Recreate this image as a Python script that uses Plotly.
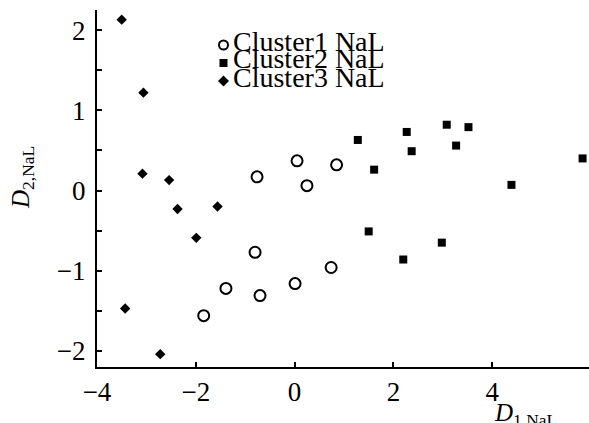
import plotly.graph_objects as go

# ---- data ----
c1_x = [-0.76, 0.05, 0.25, 0.85, -0.80, -1.39, -0.70, -1.84, 0.01, 0.74]
c1_y = [0.17, 0.37, 0.06, 0.32, -0.77, -1.22, -1.31, -1.56, -1.16, -0.96]

c2_x = [1.28, 1.61, 2.27, 2.37, 3.08, 3.52, 3.27, 4.39, 5.83, 1.50, 2.20, 2.98]
c2_y = [0.63, 0.26, 0.73, 0.49, 0.82, 0.79, 0.56, 0.07, 0.40, -0.51, -0.86, -0.65]

c3_x = [-3.50, -3.06, -3.08, -2.54, -2.37, -1.56, -1.99, -3.43, -2.72]
c3_y = [2.13, 1.22, 0.21, 0.13, -0.23, -0.20, -0.59, -1.47, -2.04]

series_names = ["Cluster1 NaL", "Cluster2 NaL", "Cluster3 NaL"]
x_ticks = [-4, -2, 0, 2, 4]
y_ticks = [-2, -1, 0, 1, 2]

FONT = "Liberation Serif"
W, H = 589, 423
# plot area in page pixels
L, R, T, B = 97, 589, 10, 367


def px(x_page):
    return (x_page - L) / (R - L)


def py(y_page):
    return (B - y_page) / (B - T)


fig = go.Figure()
fig.add_trace(go.Scatter(x=c1_x, y=c1_y, mode="markers", name=series_names[0], cliponaxis=False,
                         marker=dict(symbol="circle-open", size=11, color="black",
                                     line=dict(width=2, color="black"))))
fig.add_trace(go.Scatter(x=c2_x, y=c2_y, mode="markers", name=series_names[1], cliponaxis=False,
                         marker=dict(symbol="square", size=8, color="black")))
fig.add_trace(go.Scatter(x=c3_x, y=c3_y, mode="markers", name=series_names[2], cliponaxis=False,
                         marker=dict(symbol="diamond", size=8, color="black")))

annotations = []
shapes = []
# legend (drawn manually to get the tight line spacing)
leg_y = [41.0, 59.0, 77.5]
sym_y = [45, 63, 81]
for name, ty in zip(series_names, leg_y):
    annotations.append(dict(text=name, xref="paper", yref="paper", x=px(231), y=py(ty),
                            xanchor="left", yanchor="middle", showarrow=False,
                            font=dict(family=FONT, size=28, color="black")))
sx = px(223.5)
shapes.append(dict(type="circle", xref="paper", yref="paper", xsizemode="pixel", ysizemode="pixel",
                   xanchor=sx, yanchor=py(sym_y[0]), x0=-4.5, x1=4.5, y0=-4.5, y1=4.5,
                   line=dict(color="black", width=2)))
shapes.append(dict(type="rect", xref="paper", yref="paper", xsizemode="pixel", ysizemode="pixel",
                   xanchor=sx, yanchor=py(sym_y[1]), x0=-4, x1=4, y0=-4, y1=4,
                   fillcolor="black", line=dict(width=0)))
shapes.append(dict(type="path", xref="paper", yref="paper", xsizemode="pixel", ysizemode="pixel",
                   xanchor=sx, yanchor=py(sym_y[2]), path="M -5.5 0 L 0 5.5 L 5.5 0 L 0 -5.5 Z",
                   fillcolor="black", line=dict(width=0)))

# axis titles
annotations.append(dict(text="<i>D</i><sub>2,NaL</sub>", xref="paper", yref="paper",
                        x=px(22), y=py(178), textangle=-90, showarrow=False,
                        xanchor="center", yanchor="middle",
                        font=dict(family=FONT, size=25, color="black")))
annotations.append(dict(text="<i>D</i><sub>1,NaL</sub>", xref="paper", yref="paper",
                        x=px(525), y=py(397), showarrow=False,
                        xanchor="center", yanchor="top",
                        font=dict(family=FONT, size=25, color="black")))

axis_common = dict(ticks="inside", ticklen=5, tickwidth=1.5, tickcolor="black",
                   showline=True, linecolor="black", linewidth=2, showgrid=False,
                   zeroline=False, automargin=False,
                   tickfont=dict(family=FONT, size=27, color="black"))

fig.update_layout(
    width=W, height=H,
    margin=dict(l=L, r=W - R, t=T, b=H - B, pad=0),
    paper_bgcolor="white", plot_bgcolor="white",
    showlegend=False,
    font=dict(family=FONT, size=24, color="black"),
    annotations=annotations, shapes=shapes,
    xaxis=dict(range=[-4, 5.96], tickvals=x_ticks, **axis_common),
    yaxis=dict(range=[-2.2, 2.25], tickvals=y_ticks, ticklabelstandoff=4,
               minor=dict(dtick=0.5, tick0=0, ticks="inside", ticklen=5, tickwidth=1.5,
                          tickcolor="black", showgrid=False),
               **axis_common),
)

fig.write_html(
    "out.html",
    config={"displayModeBar": False},
    post_script="document.body.style.margin='0';document.body.style.overflow='hidden';",
)
